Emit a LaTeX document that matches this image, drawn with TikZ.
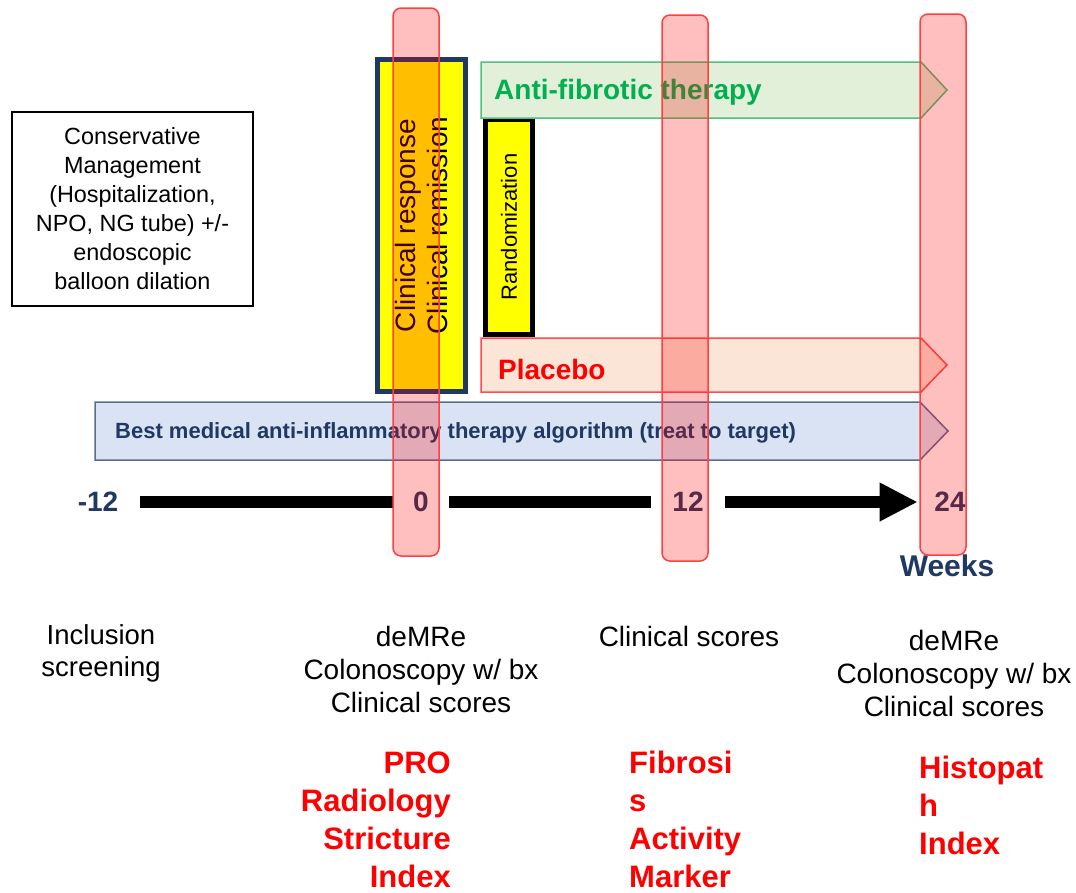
\documentclass[tikz,border=0pt]{standalone}
\usepackage{fontspec}
\setmainfont{Liberation Sans}
\usetikzlibrary{arrows.meta}
\definecolor{navy}{HTML}{1F3864}
\definecolor{greentxt}{HTML}{00B050}
\definecolor{greenfill}{HTML}{E2F0D9}
\definecolor{greenline}{HTML}{4CC27A}
\definecolor{peachfill}{HTML}{FBE5D6}
\definecolor{redline}{HTML}{FF4B4B}
\definecolor{bluefill}{HTML}{DAE3F3}
\definecolor{blueline}{HTML}{5B6C92}
\definecolor{yel}{HTML}{FFFF00}
\tikzset{
  fs/.style 2 args={font=\fontsize{#1}{#2}\selectfont},
  fsb/.style 2 args={font=\fontsize{#1}{#2}\selectfont\bfseries},
  pinkbar/.style={draw=red!75!white, line width=1.5pt, fill=red, fill opacity=0.25, rounded corners=8pt, inner sep=0pt},
  weeknum/.style={fsb={28}{32}, text=navy, fill=white, inner xsep=20pt, inner ysep=8pt},
  redtxt/.style={fsb={31}{38}, text=red, inner sep=0pt},
  plaintxt/.style={fs={28}{33}, align=center, inner sep=0pt}
}
\begin{document}
\begin{tikzpicture}[x=1pt,y=-1pt]
\path[fill=white] (0,0) rectangle (1076,892);
\useasboundingbox (0,0) rectangle (1076,892);

% conservative management box
\node[draw, line width=2pt, minimum width=241pt, minimum height=194pt, align=center, fs={23.4}{29}, inner sep=0pt] (cons) at (132.5,209) {Conservative\\Management\\(Hospitalization,\\NPO, NG tube) +/-\\endoscopic\\balloon dilation};

% clinical response box
\node[draw=navy, line width=5pt, fill=yel, minimum width=88pt, minimum height=332pt, inner sep=0pt] (crbox) at (421.5,225.5) {};
\node[rotate=90, align=center, fs={28}{32}, inner sep=0pt] (crtext) at (crbox.center) {Clinical response\\Clinical remission};

% randomization box
\node[draw=black, line width=5pt, fill=yel, minimum width=47pt, minimum height=215pt, inner sep=0pt] (rbox) at (509,227) {};
\node[rotate=90, fs={22}{26}, inner sep=0pt] (rtext) at (rbox.center) {Randomization};

% anti-fibrotic arrow
\draw[draw=greenline, fill=greenfill, line width=1.5pt] (481,62) -- (921,62) -- (947,90) -- (921,118) -- (481,118) -- cycle;
\node[anchor=base west, fsb={28}{32}, text=greentxt, inner sep=0pt] (anti) at (494,99) {Anti-fibrotic therapy};

% placebo arrow
\draw[draw=redline, fill=peachfill, line width=1.5pt] (481,338) -- (921,338) -- (947,365) -- (921,392) -- (481,392) -- cycle;
\node[anchor=base west, fsb={28}{32}, text=red, inner sep=0pt] (plac) at (498,379) {Placebo};

% best medical arrow
\draw[draw=blueline, fill=bluefill, line width=1.5pt] (95,402) -- (920,402) -- (948,431) -- (920,460) -- (95,460) -- cycle;
\node[anchor=base west, fsb={22}{26}, text=navy, inner sep=0pt] (best) at (115,438) {Best medical anti-inflammatory therapy algorithm (treat to target)};

% timeline
\node[fsb={28}{32}, text=navy, inner ysep=0pt, inner xsep=0pt, minimum width=84pt] (m12) at (98,502) {-12};
\node[fsb={28}{32}, text=navy, inner ysep=0pt, inner xsep=16.5pt] (w24) at (950,502) {24};
\draw[line width=12pt, -{Triangle[length=38pt,width=36pt]}] (m12.east) -- (w24.west);
\node[weeknum] (w0) at (421,502) {0};
\node[weeknum, inner xsep=21pt] (w12) at (688,502) {12};
\node[fsb={30}{34}, text=navy, inner sep=0pt] (weeks) at (947,566) {Weeks};

% assessments
\node[plaintxt, fs={27.5}{32}] (incl) at (101,653) {Inclusion\\screening};
\node[plaintxt] (d0) at (421,669) {deMRe\\Colonoscopy w/ bx\\Clinical scores};
\node[plaintxt] (c12) at (689,636) {Clinical scores};
\node[plaintxt] (d24) at (954,673) {deMRe\\Colonoscopy w/ bx\\Clinical scores};

% endpoints (base anchor = last line baseline)
\node[redtxt, align=right, anchor=base east] (e0) at (451,887) {PRO\\Radiology\\Stricture\\Index};
\node[redtxt, align=left, anchor=base west] (e12) at (629,887) {Fibrosi\\s\\Activity\\Marker};
\node[redtxt, align=left, anchor=base west] (e24) at (919,854) {Histopat\\h\\Index};

% pink time bars
\node[pinkbar, minimum width=46pt, minimum height=548pt] (bar0) at (416,282) {};
\node[pinkbar, minimum width=46pt, minimum height=546pt] (bar12) at (685,288) {};
\node[pinkbar, minimum width=46pt, minimum height=541pt] (bar24) at (943,284.5) {};
\end{tikzpicture}
\end{document}
